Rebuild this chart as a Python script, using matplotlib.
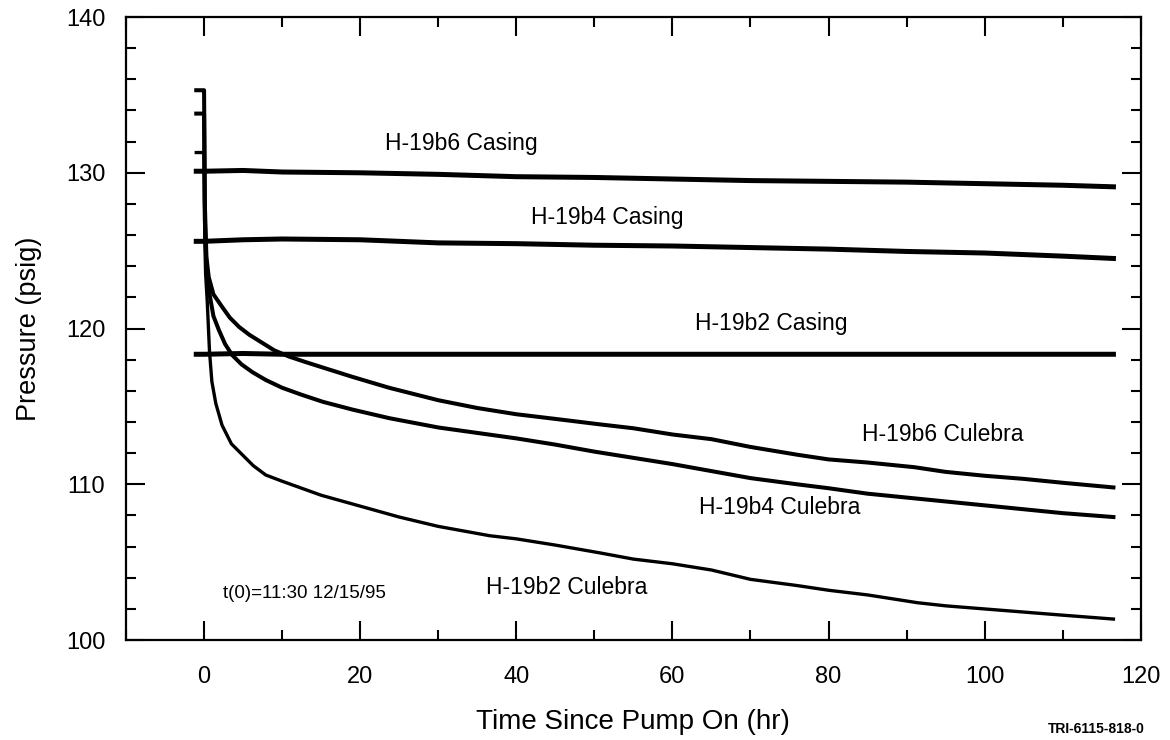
import numpy as np
import matplotlib.pyplot as plt
from matplotlib.ticker import MultipleLocator

plt.rcParams['font.family'] = ['Liberation Sans', 'DejaVu Sans']

# casing gauges (hr, psig)
t_casing = [-1, 0, 5, 10, 20, 30, 40, 50, 60, 70, 80, 90, 100, 110, 116.5]
b6_casing = [130.1, 130.1, 130.15, 130.05, 130.0, 129.9, 129.75, 129.7, 129.6, 129.5,
             129.45, 129.4, 129.3, 129.2, 129.1]
b4_casing = [125.6, 125.6, 125.7, 125.75, 125.7, 125.5, 125.45, 125.35, 125.3, 125.2,
             125.1, 124.95, 124.85, 124.65, 124.5]
b2_casing = [118.35, 118.35, 118.4, 118.35, 118.35, 118.35, 118.35, 118.35, 118.35, 118.35,
             118.35, 118.35, 118.35, 118.35, 118.35]

# culebra gauges
t_b6 = [-1, -0.3, 0, 0.1, 0.3, 0.6, 1.2, 2.3, 3.3, 4.5, 5.8, 7.4, 9, 10.9, 13, 15.2, 19,
        23.7, 30, 35, 40, 45, 50.7, 55, 60, 65, 70, 76, 80, 85, 91, 95, 100, 105, 110, 116.5]
b6_culebra = [135.3, 135.3, 135.3, 128.0, 124.6, 123.3, 122.2, 121.4, 120.7, 120.1, 119.6,
              119.1, 118.6, 118.2, 117.85, 117.5, 116.9, 116.2, 115.4, 114.9, 114.5, 114.2,
              113.85, 113.6, 113.2, 112.9, 112.4, 111.9, 111.6, 111.4, 111.1, 110.8, 110.55,
              110.35, 110.1, 109.8]

t_b4 = [-1, -0.3, 0, 0.1, 0.3, 0.6, 1.2, 1.9, 2.7, 3.6, 4.8, 6.2, 7.9, 10, 12.5, 15.2, 19,
        23.7, 30, 35, 40, 45, 50, 55, 60, 65, 70, 76, 80, 85, 91, 95, 100, 105, 110, 116.5]
b4_culebra = [133.8, 133.8, 133.8, 127.0, 124.0, 122.5, 120.8, 119.9, 119.0, 118.3, 117.7,
              117.2, 116.7, 116.2, 115.75, 115.3, 114.8, 114.25, 113.65, 113.3, 112.95, 112.55,
              112.1, 111.7, 111.3, 110.85, 110.4, 110.0, 109.75, 109.4, 109.1, 108.9, 108.65,
              108.4, 108.15, 107.9]

t_b2 = [-1, -0.3, 0, 0.1, 0.2, 0.4, 0.7, 1.0, 1.5, 2.3, 3.5, 4.9, 6.3, 7.9, 10, 15, 20, 25,
        30, 36.6, 40, 45, 50.7, 55, 60, 65, 70, 76, 80, 85, 91.4, 95, 100, 105, 110, 116.5]
b2_culebra = [131.3, 131.3, 131.3, 125.5, 123.5, 121.8, 118.5, 116.6, 115.2, 113.8, 112.6,
              111.9, 111.2, 110.6, 110.2, 109.3, 108.6, 107.9, 107.3, 106.7, 106.5, 106.1,
              105.6, 105.2, 104.9, 104.5, 103.9, 103.5, 103.2, 102.9, 102.4, 102.2, 102.0,
              101.8, 101.6, 101.35]

fig = plt.figure(figsize=(11.7, 7.4), dpi=100)
ax = fig.add_axes([0.1077, 0.135, 0.8673, 0.842])

ax.plot(t_casing, b6_casing, color='black', lw=3.6)
ax.plot(t_casing, b4_casing, color='black', lw=3.6)
ax.plot(t_casing, b2_casing, color='black', lw=3.6)
ax.plot(t_b6, b6_culebra, color='black', lw=2.9)
ax.plot(t_b4, b4_culebra, color='black', lw=2.9)
ax.plot(t_b2, b2_culebra, color='black', lw=2.4)

ax.set_xlim(-10, 120)
ax.set_ylim(100, 140)
ax.xaxis.set_major_locator(MultipleLocator(20))
ax.xaxis.set_minor_locator(MultipleLocator(10))
ax.yaxis.set_major_locator(MultipleLocator(10))
ax.yaxis.set_minor_locator(MultipleLocator(2))
ax.tick_params(which='both', direction='in', top=True, right=True, width=1.5, labelsize=17)
ax.tick_params(which='major', length=14)
ax.tick_params(which='minor', length=7)
ax.tick_params(axis='y', pad=15)
ax.tick_params(axis='x', pad=18.5)
for s in ax.spines.values():
    s.set_linewidth(1.6)

ax.set_xlabel('Time Since Pump On (hr)', fontsize=20, labelpad=15)
ax.set_ylabel('Pressure (psig)', fontsize=19.5, labelpad=17)

ax.text(33, 131.9, 'H-19b6 Casing', fontsize=16.5, ha='center', va='center')
ax.text(51.7, 127.1, 'H-19b4 Casing', fontsize=16.5, ha='center', va='center')
ax.text(72.6, 120.35, 'H-19b2 Casing', fontsize=16.5, ha='center', va='center')
ax.text(94.6, 113.2, 'H-19b6 Culebra', fontsize=16.5, ha='center', va='center')
ax.text(73.7, 108.5, 'H-19b4 Culebra', fontsize=16.5, ha='center', va='center')
ax.text(46.4, 103.4, 'H-19b2 Culebra', fontsize=16.5, ha='center', va='center')
ax.text(12.8, 103.0, 't(0)=11:30 12/15/95', fontsize=13.5, ha='center', va='center')

fig.text(0.978, 0.015, 'TRI-6115-818-0', fontsize=10, fontweight='bold', ha='right', va='center')

fig.savefig('out.png', dpi=100)
